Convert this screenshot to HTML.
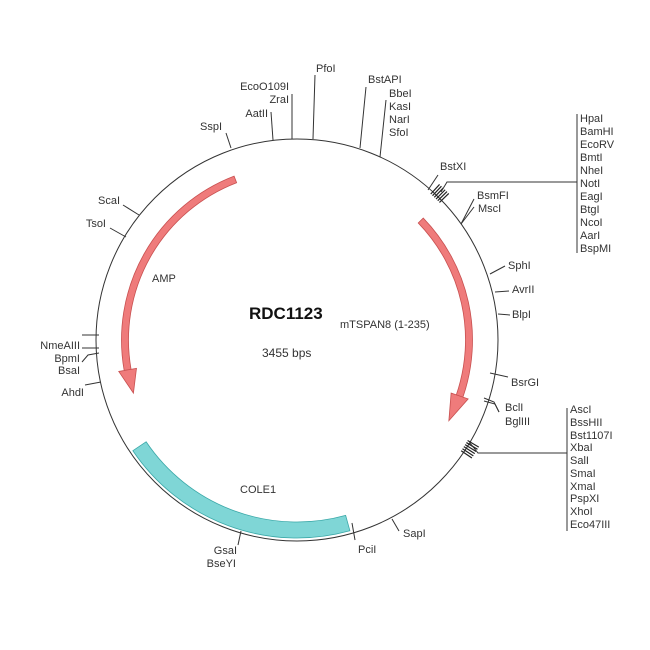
<!DOCTYPE html>
<html><head><meta charset="utf-8"><style>
html,body{margin:0;padding:0;background:#fff;}
svg{display:block;}
text{font-family:"Liberation Sans",sans-serif;font-size:11px;fill:#333;}
</style></head><body>
<svg id="s" width="650" height="650" viewBox="0 0 650 650" xmlns="http://www.w3.org/2000/svg">
<circle cx="297" cy="340" r="201" fill="none" stroke="#333" stroke-width="1"/>
<g id="g"></g>
<g stroke="#333" stroke-width="1" fill="none">
<line x1="315" y1="75" x2="313" y2="139"/>
<line x1="292" y1="94" x2="292" y2="139"/>
<line x1="271" y1="112" x2="273" y2="140"/>
<line x1="226" y1="133" x2="231" y2="148"/>
<line x1="366" y1="87" x2="360" y2="148"/>
<line x1="386" y1="100" x2="380" y2="157"/>
<line x1="438" y1="175" x2="428" y2="190"/>
<polyline points="441,192 447,182 577,182"/>
<line x1="577" y1="114" x2="577" y2="253"/>
<line x1="474" y1="199" x2="461" y2="224"/>
<line x1="474" y1="207" x2="461" y2="224"/>
<line x1="505" y1="266" x2="490" y2="274"/>
<line x1="509" y1="291" x2="495" y2="292"/>
<line x1="510" y1="315" x2="498" y2="314"/>
<line x1="508" y1="377" x2="490" y2="373"/>
<polyline points="499,412 494,402 484,398"/>
<polyline points="499,412 495,404 484,401"/>
<polyline points="470,443 478,453 567,453"/>
<line x1="567" y1="408" x2="567" y2="531"/>
<line x1="399" y1="531" x2="392" y2="519"/>
<line x1="355" y1="540" x2="352" y2="523"/>
<line x1="238" y1="545" x2="241" y2="531"/>
<line x1="123" y1="205" x2="139" y2="215"/>
<line x1="110" y1="228" x2="126" y2="237"/>
<line x1="82" y1="335" x2="99" y2="335"/>
<line x1="82" y1="348" x2="99" y2="348"/>
<polyline points="82,362 88,355 99,353"/>
<line x1="85" y1="385" x2="101" y2="382"/>
</g>
<text x="316" y="72">PfoI</text>
<text x="289" y="90" text-anchor="end">EcoO109I</text>
<text x="289" y="103" text-anchor="end">ZraI</text>
<text x="268" y="117" text-anchor="end">AatII</text>
<text x="222" y="130" text-anchor="end">SspI</text>
<text x="368" y="83">BstAPI</text>
<text x="389" y="97">BbeI</text>
<text x="389" y="110">KasI</text>
<text x="389" y="123">NarI</text>
<text x="389" y="136">SfoI</text>
<text x="440" y="170">BstXI</text>
<g>
<text x="580" y="122">HpaI</text>
<text x="580" y="135">BamHI</text>
<text x="580" y="148">EcoRV</text>
<text x="580" y="161">BmtI</text>
<text x="580" y="174">NheI</text>
<text x="580" y="187">NotI</text>
<text x="580" y="200">EagI</text>
<text x="580" y="213">BtgI</text>
<text x="580" y="226">NcoI</text>
<text x="580" y="239">AarI</text>
<text x="580" y="252">BspMI</text>
</g>
<text x="477" y="199">BsmFI</text>
<text x="478" y="212">MscI</text>
<text x="508" y="269">SphI</text>
<text x="512" y="293">AvrII</text>
<text x="512" y="318">BlpI</text>
<text x="511" y="386">BsrGI</text>
<text x="505" y="411">BclI</text>
<text x="505" y="425">BglIII</text>
<g>
<text x="570" y="413">AscI</text>
<text x="570" y="426">BssHII</text>
<text x="570" y="439">Bst1107I</text>
<text x="570" y="451">XbaI</text>
<text x="570" y="464">SalI</text>
<text x="570" y="477">SmaI</text>
<text x="570" y="490">XmaI</text>
<text x="570" y="502">PspXI</text>
<text x="570" y="515">XhoI</text>
<text x="570" y="528">Eco47III</text>
</g>
<text x="403" y="537">SapI</text>
<text x="358" y="553">PciI</text>
<text x="237" y="554" text-anchor="end">GsaI</text>
<text x="236" y="567" text-anchor="end">BseYI</text>
<text x="120" y="204" text-anchor="end">ScaI</text>
<text x="106" y="227" text-anchor="end">TsoI</text>
<text x="80" y="349" text-anchor="end">NmeAIII</text>
<text x="80" y="362" text-anchor="end">BpmI</text>
<text x="80" y="374" text-anchor="end">BsaI</text>
<text x="84" y="396" text-anchor="end">AhdI</text>
<text x="152" y="282">AMP</text>
<text x="240" y="493">COLE1</text>
<text x="249" y="319" style="font-size:17px;font-weight:bold;fill:#111">RDC1123</text>
<text x="340" y="328" style="font-size:11px">mTSPAN8 (1-235)</text>
<text x="262" y="357" style="font-size:12px">3455 bps</text>
</svg>
<script>
(function(){
var cx=297,cy=340,ns="http://www.w3.org/2000/svg",g=document.getElementById('g');
function P(r,a){a=a*Math.PI/180;return [cx+r*Math.cos(a),cy+r*Math.sin(a)];}
function add(tag,at){var e=document.createElementNS(ns,tag);for(var k in at)e.setAttribute(k,at[k]);g.appendChild(e);}
function band(r1,r2,a1,a2){var p1=P(r2,a1),p2=P(r2,a2),p3=P(r1,a2),p4=P(r1,a1);var lg=Math.abs(a2-a1)>180?1:0;var sw=a2>a1?1:0;
return "M"+p1+" A"+r2+","+r2+" 0 "+lg+" "+sw+" "+p2+" L"+p3+" A"+r1+","+r1+" 0 "+lg+" "+(1-sw)+" "+p4+" Z";}
function arrow(r,w,a1,a2,tip){var d=band(r-w/2,r+w/2,a1,a2);var o=P(r+9,a2),i=P(r-9,a2),t=P(r,tip);
d+=" M"+o+" L"+t+" L"+i+" Z";add('path',{d:d,fill:'#ef7b7b',stroke:'#c85050','stroke-width':0.8});}
add('path',{d:band(182,198,74.5,146),fill:'#7fd6d6',stroke:'#3aa8a8','stroke-width':0.8});
arrow(172,7,-44,19,28);
arrow(172,7,-111,-190,-198);
function tick(a,r1,r2){var p=P(r1,a),q=P(r2,a);add('line',{x1:p[0],y1:p[1],x2:q[0],y2:q[1],stroke:'#222','stroke-width':1.2});}
[-47.5,-46.8,-46.1,-45.4,-44.7,-44].forEach(function(a){tick(a,198,211);});
[30.5,31.2,31.9,32.6,33.3,34].forEach(function(a){tick(a,198,211);});
})();
</script>
</body></html>
